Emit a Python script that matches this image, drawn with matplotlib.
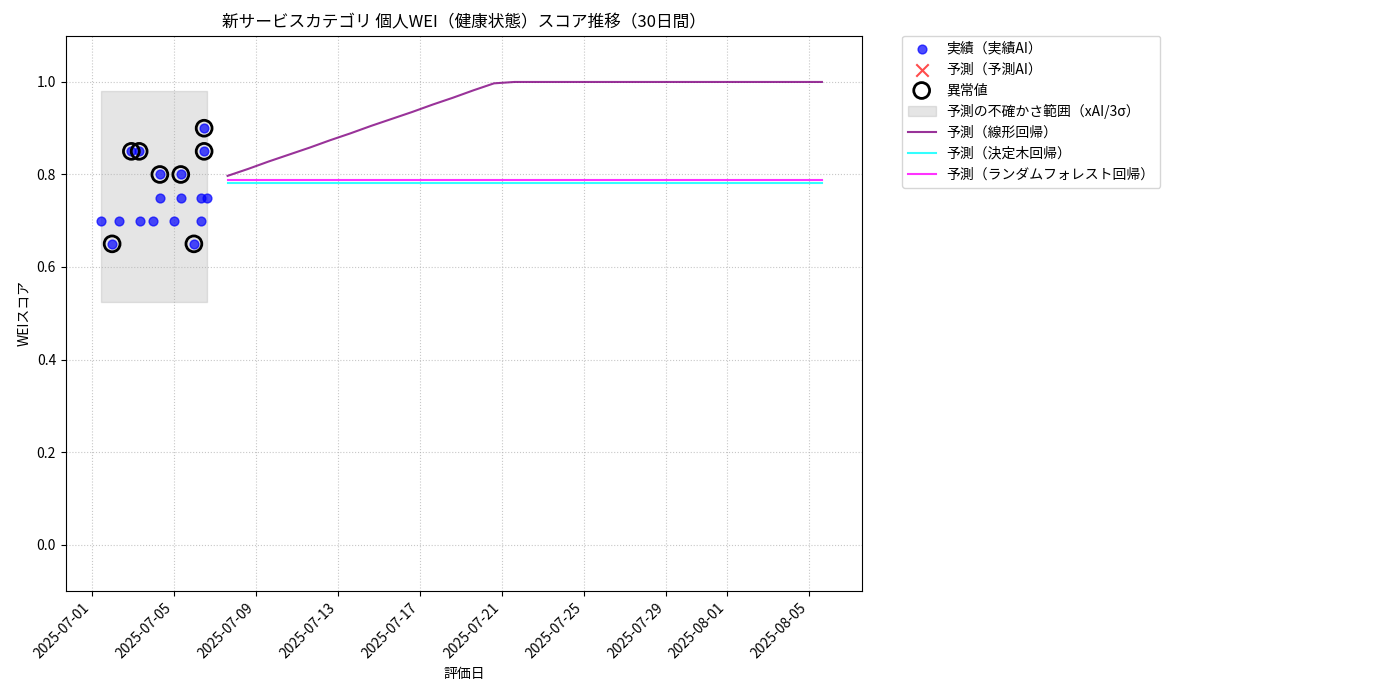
import matplotlib
matplotlib.use("Agg")
import matplotlib.pyplot as plt
import matplotlib.dates as mdates
import pandas as pd

plt.rcParams['font.family'] = ['Noto Sans CJK JP', 'DejaVu Sans']

# actual data (day offsets from 2025-07-01 00:00)
act_days = [0.45, 1.33, 0.99, 1.93, 2.31, 2.35, 2.99, 3.32, 3.32, 4.01, 4.34, 4.34, 4.98, 5.33, 5.33, 5.48, 5.48, 5.62]
act_vals = [0.70, 0.70, 0.65, 0.85, 0.85, 0.70, 0.70, 0.80, 0.75, 0.70, 0.80, 0.75, 0.65, 0.70, 0.75, 0.90, 0.85, 0.75]
anom_days = [0.99, 1.93, 2.31, 3.32, 4.34, 4.98, 5.48, 5.48]
anom_vals = [0.65, 0.85, 0.85, 0.80, 0.80, 0.65, 0.90, 0.85]

lin_vals = [0.797, 0.812, 0.828, 0.843, 0.858, 0.874, 0.889, 0.905, 0.920, 0.935,
            0.951, 0.966, 0.982, 0.997] + [1.0] * 16
tree_vals = [0.781] * 30
rf_vals = [0.787] * 30

band_start, band_end = 0.45, 5.62
band_lo, band_hi = 0.525, 0.98

base = pd.Timestamp("2025-07-01")
ad = [base + pd.Timedelta(days=d) for d in act_days]
nd = [base + pd.Timedelta(days=d) for d in anom_days]
fd = pd.date_range(pd.Timestamp("2025-07-07 15:00"), periods=30, freq="D")

fig = plt.figure(figsize=(14, 7), dpi=100)
ax = fig.add_axes([0.047, 0.156, 0.569, 0.793])

ax.fill_between([base + pd.Timedelta(days=band_start), base + pd.Timedelta(days=band_end)],
                band_lo, band_hi, color='gray', alpha=0.2, label='予測の不確かさ範囲（xAI/3σ）')
ax.scatter(ad, act_vals, color='blue', alpha=0.7, s=40, label='実績（実績AI）', zorder=3)
ax.scatter([], [], color='red', marker='x', alpha=0.7, s=80, label='予測（予測AI）')
ax.scatter(nd, anom_vals, facecolors='none', edgecolors='black', s=130, linewidths=2, label='異常値', zorder=4)
ax.plot(fd, lin_vals, color='purple', alpha=0.8, label='予測（線形回帰）')
ax.plot(fd, tree_vals, color='cyan', alpha=0.8, label='予測（決定木回帰）')
ax.plot(fd, rf_vals, color='magenta', alpha=0.8, label='予測（ランダムフォレスト回帰）')

ax.set_xlim(base + pd.Timedelta(days=-1.27), base + pd.Timedelta(days=37.6))
ax.set_ylim(-0.1, 1.1)
ax.xaxis.set_major_locator(mdates.DayLocator(bymonthday=range(1, 32, 4)))
ax.xaxis.set_major_formatter(mdates.DateFormatter('%Y-%m-%d'))
plt.setp(ax.get_xticklabels(), rotation=45, ha='right')
ax.grid(True, linestyle=':', alpha=0.7)
ax.set_title('新サービスカテゴリ 個人WEI（健康状態）スコア推移（30日間）')
ax.set_xlabel('評価日')
ax.set_ylabel('WEIスコア')

handles, labels = ax.get_legend_handles_labels()
order = ['実績（実績AI）', '予測（予測AI）', '異常値', '予測の不確かさ範囲（xAI/3σ）',
         '予測（線形回帰）', '予測（決定木回帰）', '予測（ランダムフォレスト回帰）']
hm = dict(zip(labels, handles))
ax.legend([hm[o] for o in order], order, loc='upper left', bbox_to_anchor=(1.05, 1.0), borderaxespad=0)

fig.savefig('out.png')
